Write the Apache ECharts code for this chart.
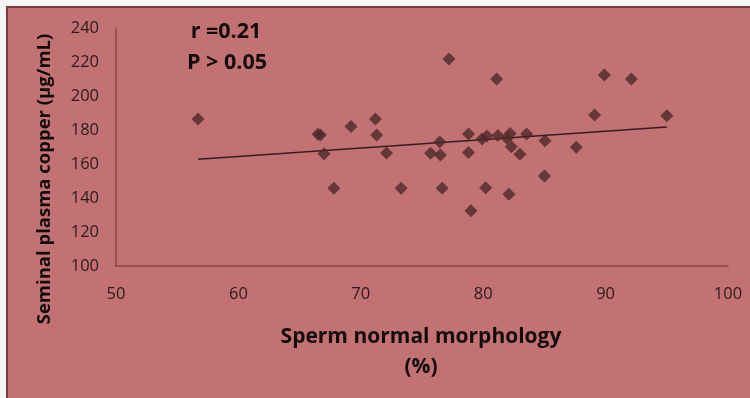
<!DOCTYPE html>
<html>
<head>
<meta charset="utf-8">
<script src="https://cdn.jsdelivr.net/npm/echarts@6/dist/echarts.min.js"></script>
<style>
  html, body { margin: 0; padding: 0; background: #f6f6f6; }
  #chart { width: 750px; height: 398px; }
</style>
</head>
<body>
<div id="chart"></div>
<script>
// sperm normal morphology (%)
const morphology = [
  56.7, 66.5, 66.7, 67.0, 67.8, 69.2, 71.2, 71.3, 72.1, 73.3,
  75.7, 76.45, 76.5, 76.65, 77.2, 78.8, 78.8, 79.0, 79.9, 80.3,
  80.2, 81.1, 81.2, 82.2, 81.95, 82.3, 82.1, 83.0, 83.55, 85.05,
  85.0, 87.6, 89.1, 89.9, 92.1, 95.0
];
// seminal plasma copper (ug/mL)
const copper = [
  186.5, 177.5, 177, 166, 145.7, 182, 186.5, 177, 166.5, 145.7,
  166.3, 173, 165.3, 145.7, 221.8, 177.6, 166.7, 132.5, 174.7, 176.5,
  146, 210, 176.7, 178, 175, 170.2, 142.2, 165.7, 177.6, 173.7,
  153, 169.8, 188.8, 212.4, 210, 188.4
];
// linear trend end points
const trendX = [56.7, 95.0];
const trendY = [162.8, 181.8];

const xTicks = [50, 60, 70, 80, 90, 100];
const yTicks = [100, 120, 140, 160, 180, 200, 220, 240];

const points = morphology.map((x, i) => [x, copper[i]]);
const trend = trendX.map((x, i) => [x, trendY[i]]);

const chart = echarts.init(document.getElementById('chart'));

const titleFont = (size) => 'bold ' + size + 'px "Open Sans", sans-serif';

const option = {
  animation: false,
  textStyle: { fontFamily: '"Open Sans", sans-serif' },
  grid: { left: 116, right: 22, top: 28, bottom: 132 },
  xAxis: {
    type: 'value',
    min: xTicks[0],
    max: xTicks[xTicks.length - 1],
    interval: 10,
    axisLine: { show: true, lineStyle: { color: '#8a4646', width: 1.5 } },
    axisTick: { show: false },
    splitLine: { show: false },
    axisLabel: { color: '#2e1a1a', fontSize: 16.5, margin: 20 }
  },
  yAxis: {
    type: 'value',
    min: yTicks[0],
    max: yTicks[yTicks.length - 1],
    interval: 20,
    axisLine: { show: true, lineStyle: { color: '#8a4646', width: 1.5 } },
    axisTick: { show: false },
    splitLine: { show: false },
    axisLabel: { color: '#2e1a1a', fontSize: 16.5, margin: 17 }
  },
  graphic: [
    {
      type: 'rect',
      z: -10,
      shape: { x: 7, y: 7, width: 750, height: 398 },
      style: { fill: '#c27273', stroke: '#7a3c3c', lineWidth: 2 }
    },
    {
      type: 'text',
      x: 45, y: 179,
      rotation: Math.PI / 2,
      style: {
        text: 'Seminal plasma copper (µg/mL)',
        font: titleFont(18.5),
        fill: '#140a0a',
        align: 'center',
        verticalAlign: 'middle'
      }
    },
    {
      type: 'text',
      x: 421, y: 337,
      style: {
        text: 'Sperm normal morphology',
        font: titleFont(21),
        fill: '#140a0a',
        align: 'center',
        verticalAlign: 'middle'
      }
    },
    {
      type: 'text',
      x: 421, y: 367,
      style: {
        text: '(%)',
        font: titleFont(21),
        fill: '#140a0a',
        align: 'center',
        verticalAlign: 'middle'
      }
    },
    {
      type: 'text',
      x: 226, y: 32,
      style: {
        text: 'r =0.21',
        font: titleFont(21.5),
        fill: '#140a0a',
        align: 'center',
        verticalAlign: 'middle'
      }
    },
    {
      type: 'text',
      x: 227, y: 63,
      style: {
        text: 'P > 0.05',
        font: titleFont(21.5),
        fill: '#140a0a',
        align: 'center',
        verticalAlign: 'middle'
      }
    }
  ],
  series: [
    {
      type: 'line',
      data: trend,
      symbol: 'none',
      lineStyle: { color: '#3a1c1c', width: 1.5 },
      z: 2
    },
    {
      type: 'scatter',
      data: points,
      symbol: 'diamond',
      symbolSize: 13,
      itemStyle: { color: '#4e2828' },
      z: 3
    }
  ]
};

chart.setOption(option);
</script>
</body>
</html>
